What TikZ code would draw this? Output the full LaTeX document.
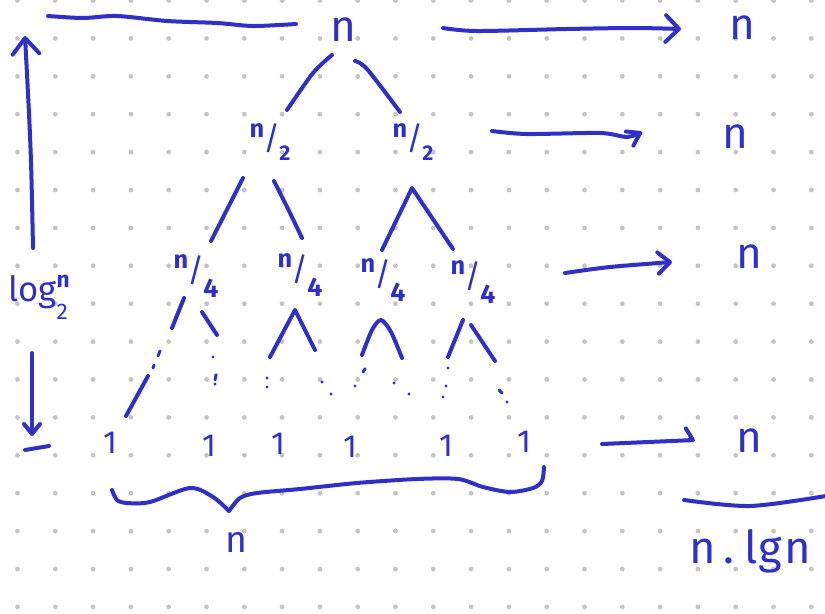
\documentclass[tikz,border=0pt]{standalone}
\usepackage{fontspec}
\setmainfont{Fira Sans}
\usetikzlibrary{arrows.meta}
\definecolor{inkc}{RGB}{48,48,200}
\definecolor{dotc}{RGB}{196,196,196}
% #1 numerator, #2 denominator, #3 denominator size, #4 numerator raise, #5 denominator raise
\newcommand\hfr[5]{%
  \raisebox{#4}{\fontsize{19}{19}\selectfont\bfseries #1}%
  \kern-0.5pt{\fontsize{24}{24}\selectfont /}\kern-0.5pt%
  \raisebox{#5}{\fontsize{#3}{#3}\selectfont\bfseries #2}}
\tikzset{
  ink/.style={draw=inkc, line width=3pt, line cap=round, line join=round},
  thinink/.style={draw=inkc, line width=2.2pt, line cap=round, line join=round},
  bigtxt/.style={text=inkc, inner sep=0pt, font=\fontsize{33}{33}\selectfont},
  midtxt/.style={text=inkc, inner sep=0pt, font=\fontsize{28}{28}\selectfont},
  onetxt/.style={text=inkc, inner sep=0pt, font=\fontsize{24}{24}\selectfont},
  fractxt/.style={text=inkc, inner sep=0pt},
}
\begin{document}
\begin{tikzpicture}[x=0.75pt,y=-0.75pt]
\useasboundingbox (0,0) rectangle (825,614);
\fill[white] (0,0) rectangle (825,614);
% dot grid
\foreach \i in {0,...,21}{\foreach \j in {0,...,16}{
  \fill[dotc] (17.5+37.8*\i, 0.5+37.9*\j) circle[radius=1.8pt];}}

% tree labels
\node[bigtxt] (root) at (343,30) {n};
\node[fractxt] (l1) at (270,142) {\hfr{n}{2}{16}{9pt}{-8pt}};
\node[fractxt] (r1) at (413,142) {\hfr{n}{2}{16}{9pt}{-8pt}};
\node[fractxt] (q1) at (196,276) {\hfr{n}{4}{20}{10pt}{-12pt}};
\node[fractxt] (q2) at (300,275) {\hfr{n}{4}{20}{10pt}{-12pt}};
\node[fractxt] (q3) at (383,280) {\hfr{n}{4}{20}{10pt}{-12pt}};
\node[fractxt] (q4) at (473,282) {\hfr{n}{4}{20}{10pt}{-12pt}};
% leaves
\node[onetxt] (o1) at (110,443) {1};
\node[onetxt] (o2) at (209,446) {1};
\node[onetxt] (o3) at (278,444) {1};
\node[onetxt] (o4) at (350,447) {1};
\node[onetxt] (o5) at (446,446) {1};
\node[onetxt] (o6) at (524,442) {1};

% tree edges
\draw[ink] plot[smooth] coordinates {(332,55) (313,73) (287,110)};
\draw[ink] plot[smooth] coordinates {(355,61) (367,69) (400,112)};
\draw[ink] (243,178) -- (211,241);
\draw[ink] plot[smooth] coordinates {(274,181) (290,213) (302,238)};
\draw[ink] (382,250) -- (412,188) -- (453,249);
\draw[ink] (184,298) -- (172,328);
\draw[ink] (202,312) -- (217,335);
\draw[ink] (270,357) -- (295,310) -- (315,350);
\draw[ink] plot[smooth] coordinates {(362,355) (372,330) (381,320) (391,332) (402,358)};
\draw[ink] (463,320) -- (448,357);
\draw[ink] (471,325) -- (495,361);
% dotted continuation
\draw[thinink] (160,351) -- (158,356);
\draw[thinink] (154,365) -- (153,368);
\draw[ink] (148,376) -- (126,416);
\foreach \a/\b in {213/357, 216/375, 215/384, 267/378, 267/387, 322/382, 331/394,
  365/369, 355/386, 394/383, 409/394, 448/368, 446/386, 443/397, 500/391, 507/402}{
  \fill[inkc] (\a,\b) circle[radius=1.3pt];}
\draw[thinink] (216,375) -- (215,380);
\draw[thinink] (365,369) -- (363,372);
\draw[thinink] (499,390) -- (502,393);

% brace
\draw[ink] plot[smooth] coordinates {(112,490) (117,500) (127,503) (150,502) (190,488) (213,497) (229,511)};
\draw[ink] plot[smooth] coordinates {(229,511) (240,498) (257,493) (300,489) (357,483) (417,479) (458,479) (483,487) (510,492) (533,488) (542,481) (544,467)};
\node[midtxt] (nb) at (236,542) {n};

% top line and height arrow
\draw[ink] plot[smooth] coordinates {(48,16) (83,18) (117,16) (167,21) (217,23) (253,26) (296,24)};
\draw[ink, -{Straight Barb[length=12pt,width=20pt,round]}] (33,248) .. controls (31,150) .. (25,36);
\node[text=inkc, inner sep=0pt, anchor=base west] (lg) at (8,301)
  {\fontsize{26}{26}\selectfont log\rlap{\raisebox{-14pt}{\fontsize{17}{17}\selectfont 2}}\raisebox{10pt}{\fontsize{17}{17}\selectfont\bfseries n}};
\draw[ink, -{Straight Barb[length=7.5pt,width=12pt,round]}] (32,353) -- (32,436);
\draw[ink] (25,450) -- (49,446);

% level sums
\node[bigtxt] (s1) at (742,28) {n};
\node[bigtxt] (s2) at (735,137) {n};
\node[bigtxt] (s3) at (749,257) {n};
\node[bigtxt] (s4) at (749,441) {n};
\draw[ink, -{Straight Barb[length=10pt,width=20pt,round]}] plot[smooth] coordinates {(443,28) (477,31) (567,29) (633,28) (681,29)};
\draw[ink, -{Straight Barb[length=9pt,width=12pt,round]}] plot[smooth] coordinates {(492,131) (527,134) (600,133) (627,137) (642,132)};
\draw[ink, -{Straight Barb[length=9pt,width=16pt,round]}] plot[smooth] coordinates {(565,273) (610,267) (672,262)};
\draw[ink, -{Straight Barb[length=5pt,width=18pt,round,harpoon]}] (602,444) -- (695,440);

% total
\draw[ink] plot[smooth] coordinates {(684,500) (750,506) (826,496)};
\node[text=inkc, inner sep=0pt, anchor=base west, font=\fontsize{34}{34}\selectfont] (tot) at (689,563) {n\kern6pt.\kern7pt l\kern1pt g\kern2pt n};
\end{tikzpicture}
\end{document}
